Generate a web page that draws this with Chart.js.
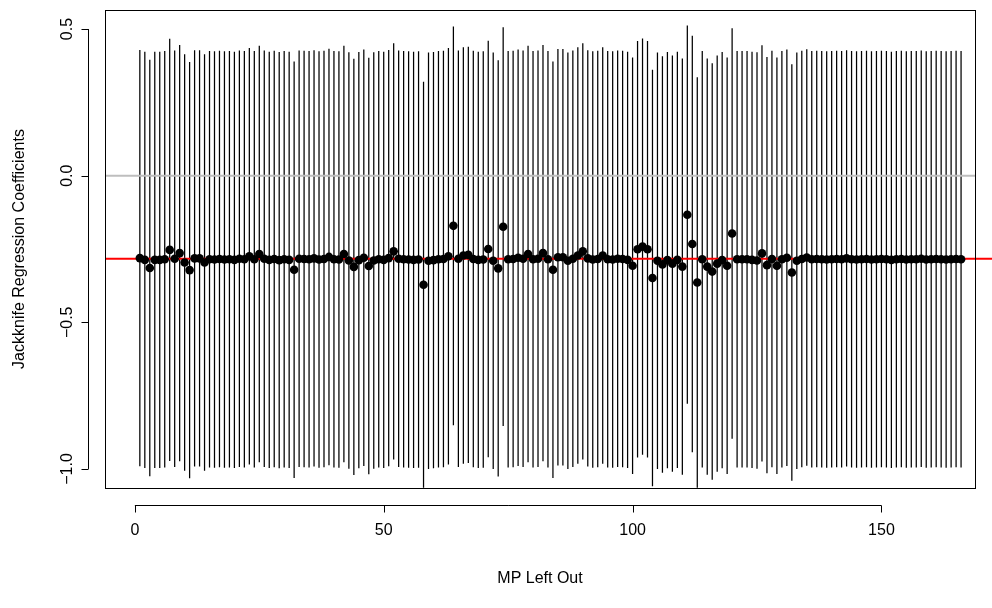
<!DOCTYPE html>
<html>
<head>
<meta charset="utf-8">
<script src="https://cdn.jsdelivr.net/npm/chart.js@4.4.1/dist/chart.umd.min.js"></script>
<style>
  html, body { margin: 0; padding: 0; background: #fff; }
</style>
</head>
<body>
<canvas id="jk" width="992" height="608"></canvas>
<script>
// jackknife estimate with each MP left out (1..166)
const coef = [
  -0.281, -0.287, -0.315, -0.287, -0.287, -0.285, -0.253, -0.283, -0.264, -0.296,
  -0.322, -0.282, -0.282, -0.296, -0.285, -0.286, -0.284, -0.286, -0.285, -0.287,
  -0.283, -0.285, -0.275, -0.285, -0.267, -0.283, -0.287, -0.284, -0.288, -0.285,
  -0.287, -0.321, -0.283, -0.284, -0.285, -0.282, -0.286, -0.284, -0.277, -0.285,
  -0.286, -0.267, -0.289, -0.311, -0.288, -0.280, -0.308, -0.289, -0.285, -0.287,
  -0.281, -0.258, -0.283, -0.285, -0.286, -0.287, -0.286, -0.372, -0.290, -0.288,
  -0.285, -0.284, -0.275, -0.171, -0.283, -0.272, -0.270, -0.284, -0.287, -0.286,
  -0.250, -0.290, -0.316, -0.174, -0.285, -0.284, -0.280, -0.283, -0.267, -0.285,
  -0.283, -0.264, -0.285, -0.321, -0.278, -0.278, -0.290, -0.283, -0.272, -0.258,
  -0.282, -0.286, -0.284, -0.272, -0.285, -0.286, -0.283, -0.284, -0.287, -0.307,
  -0.251, -0.242, -0.251, -0.349, -0.290, -0.303, -0.288, -0.300, -0.287, -0.310,
  -0.133, -0.233, -0.364, -0.285, -0.310, -0.327, -0.300, -0.288, -0.307, -0.197,
  -0.285, -0.285, -0.285, -0.287, -0.289, -0.265, -0.305, -0.284, -0.307, -0.285,
  -0.280, -0.330, -0.290, -0.284, -0.279, -0.285, -0.284, -0.285, -0.286, -0.285,
  -0.284, -0.285, -0.282, -0.285, -0.286, -0.285, -0.284, -0.286, -0.285, -0.284,
  -0.285, -0.287, -0.285, -0.284, -0.286, -0.285, -0.285, -0.283, -0.286, -0.285,
  -0.284, -0.285, -0.286, -0.285, -0.284, -0.285
];

// half width of each interval
const halfWidth = [
  0.71, 0.71, 0.71, 0.71, 0.71, 0.71, 0.72, 0.71, 0.71, 0.71,
  0.71, 0.71, 0.71, 0.71, 0.71, 0.71, 0.71, 0.71, 0.71, 0.71,
  0.71, 0.71, 0.71, 0.71, 0.71, 0.71, 0.71, 0.71, 0.71, 0.71,
  0.71, 0.71, 0.71, 0.71, 0.71, 0.71, 0.71, 0.71, 0.71, 0.71,
  0.71, 0.71, 0.71, 0.71, 0.71, 0.71, 0.71, 0.71, 0.71, 0.71,
  0.71, 0.71, 0.71, 0.71, 0.71, 0.71, 0.71, 0.692, 0.71, 0.71,
  0.71, 0.71, 0.71, 0.68, 0.71, 0.71, 0.71, 0.71, 0.71, 0.71,
  0.71, 0.71, 0.71, 0.68, 0.71, 0.71, 0.71, 0.71, 0.71, 0.71,
  0.71, 0.71, 0.71, 0.71, 0.71, 0.71, 0.71, 0.71, 0.71, 0.71,
  0.71, 0.71, 0.71, 0.71, 0.71, 0.71, 0.71, 0.71, 0.71, 0.71,
  0.71, 0.71, 0.71, 0.71, 0.71, 0.71, 0.71, 0.71, 0.71, 0.71,
  0.645, 0.71, 0.70, 0.71, 0.71, 0.71, 0.71, 0.71, 0.71, 0.70,
  0.71, 0.71, 0.71, 0.71, 0.71, 0.71, 0.71, 0.71, 0.71, 0.71,
  0.71, 0.71, 0.71, 0.71, 0.71, 0.71, 0.71, 0.71, 0.71, 0.71,
  0.71, 0.71, 0.71, 0.71, 0.71, 0.71, 0.71, 0.71, 0.71, 0.71,
  0.71, 0.71, 0.71, 0.71, 0.71, 0.71, 0.71, 0.71, 0.71, 0.71,
  0.71, 0.71, 0.71, 0.71, 0.71, 0.71
];

const fullCoef = -0.283;          // estimate on all MPs (red line)
const xTicks = [0, 50, 100, 150];
const yTicks = [-1.0, -0.5, 0.0, 0.5];
const xTitle = "MP Left Out";
const yTitle = "Jackknife Regression Coefficients";

const mpLeftOut = coef.map((_, i) => i + 1);

const X_MIN = -6.0, X_MAX = 168.8;
const Y_MIN = -1.065, Y_MAX = 0.565;
const FONT = "16px 'Liberation Sans', Arial, sans-serif";

// base-graphics style box and axes, drawn off the chart area
const rAxes = {
  id: "rAxes",
  afterDraw(chart) {
    const { ctx, chartArea: a, scales: { x, y } } = chart;
    ctx.save();
    ctx.strokeStyle = "#000";
    ctx.fillStyle = "#000";
    ctx.lineWidth = 1;
    ctx.strokeRect(Math.round(a.left) + 0.5, Math.round(a.top) + 0.5,
                   Math.round(a.right - a.left), Math.round(a.bottom - a.top));

    // x axis
    const ax = 505.5;
    ctx.beginPath();
    ctx.moveTo(x.getPixelForValue(xTicks[0]), ax);
    ctx.lineTo(x.getPixelForValue(xTicks[xTicks.length - 1]), ax);
    xTicks.forEach(t => {
      const px = Math.round(x.getPixelForValue(t)) + 0.5;
      ctx.moveTo(px, ax);
      ctx.lineTo(px, ax + 7);
    });
    ctx.stroke();
    ctx.font = FONT;
    ctx.textAlign = "center";
    ctx.textBaseline = "middle";
    xTicks.forEach(t => ctx.fillText(String(t), x.getPixelForValue(t), 531));
    ctx.fillText(xTitle, (a.left + a.right) / 2, 579);

    // y axis
    const ay = 88.5;
    ctx.beginPath();
    ctx.moveTo(ay, y.getPixelForValue(yTicks[0]));
    ctx.lineTo(ay, y.getPixelForValue(yTicks[yTicks.length - 1]));
    yTicks.forEach(t => {
      const py = Math.round(y.getPixelForValue(t)) + 0.5;
      ctx.moveTo(ay, py);
      ctx.lineTo(ay - 7, py);
    });
    ctx.stroke();
    yTicks.forEach(t => {
      ctx.save();
      ctx.translate(68, y.getPixelForValue(t));
      ctx.rotate(-Math.PI / 2);
      ctx.fillText(t === 0 ? "0.0" : t.toFixed(1).replace("-", "\u2212"), 0, 0);
      ctx.restore();
    });
    ctx.save();
    ctx.translate(20, (a.top + a.bottom) / 2);
    ctx.rotate(-Math.PI / 2);
    ctx.fillText(yTitle, 0, 0);
    ctx.restore();
    ctx.restore();
  }
};

new Chart(document.getElementById("jk"), {
  type: "bar",
  data: {
    datasets: [
      {
        type: "bar",
        data: mpLeftOut.map((m, i) => ({ x: m, y: [coef[i] - halfWidth[i], coef[i] + halfWidth[i]] })),
        backgroundColor: "#000",
        barThickness: 1.25,
        inflateAmount: 0,
        borderWidth: 0,
        clip: 0,
        order: 3
      },
      {
        type: "line",
        data: [{ x: X_MIN, y: 0 }, { x: X_MAX, y: 0 }],
        borderColor: "#bebebe",
        borderWidth: 2,
        pointRadius: 0,
        order: 2
      },
      {
        type: "line",
        data: [{ x: X_MIN, y: fullCoef }, { x: 175, y: fullCoef }],
        borderColor: "#ff0000",
        borderWidth: 2,
        pointRadius: 0,
        clip: false,
        order: 2
      },
      {
        type: "scatter",
        data: mpLeftOut.map((m, i) => ({ x: m, y: coef[i] })),
        backgroundColor: "#000",
        borderWidth: 0,
        pointRadius: 4.3,
        order: 1
      }
    ]
  },
  options: {
    responsive: false,
    animation: false,
    devicePixelRatio: 1,
    layout: { padding: { left: 105, right: 17, top: 10, bottom: 120 } },
    plugins: { legend: { display: false }, tooltip: { enabled: false } },
    scales: {
      x: { type: "linear", min: X_MIN, max: X_MAX, offset: false, display: false },
      y: { type: "linear", min: Y_MIN, max: Y_MAX, display: false }
    }
  },
  plugins: [rAxes]
});
</script>
</body>
</html>
